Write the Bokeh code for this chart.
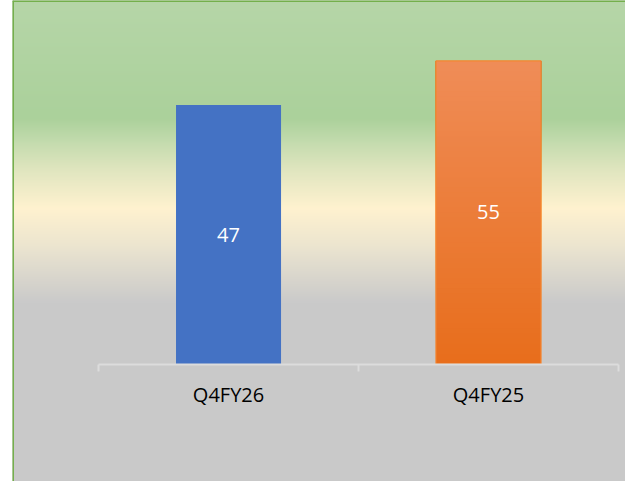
import numpy as np
from bokeh.plotting import figure
from bokeh.models import Range1d, LinearAxis, FixedTicker, Span, ColumnDataSource
from bokeh.core.properties import value
from bokeh.embed import file_html
from bokeh.resources import INLINE

# ---- data ----
categories = ["Q4FY26", "Q4FY25"]
values = [47, 55]
bar_colors = ["#4472C4", "#ED7D31"]

FONT = "Open Sans"
W, H = 625, 481
X0, X1 = -0.331, 2.027
Y0, Y1 = -21.32, 65.97

p = figure(width=W, height=H, output_backend="svg", toolbar_location=None,
           x_range=Range1d(X0, X1), y_range=Range1d(Y0, Y1),
           x_axis_location=None, y_axis_location=None,
           min_border_left=12, min_border_right=0, min_border_top=0, min_border_bottom=0)
p.grid.visible = False
p.outline_line_color = None
p.border_fill_color = "white"
p.background_fill_color = "#c9c9c9"

# ---- background gradient (top -> bottom, in frame pixels) ----
stops = [(0, (182, 214, 168)), (117, (171, 209, 155)), (142, (197, 220, 175)),
         (172, (227, 231, 193)), (207, (255, 242, 207)), (245, (236, 229, 208)),
         (302, (202, 202, 202)), (481, (201, 201, 201))]
rows = H
ys = np.arange(rows)
grad = np.zeros((rows, 1, 4), dtype=np.uint8)
sp = np.array([s[0] for s in stops], dtype=float)
for c in range(3):
    grad[:, 0, c] = np.interp(ys, sp, [s[1][c] for s in stops]).astype(np.uint8)
grad[:, 0, 3] = 255
grad = grad[::-1]  # image row 0 is bottom
img = grad.view(dtype=np.uint32).reshape((rows, 1))
p.image_rgba(image=[img], x=X0, y=Y0, dw=X1 - X0, dh=Y1 - Y0)

# ---- bars ----
xc = [i + 0.5 for i in range(len(categories))]
bw = 0.404
# blue bar solid
p.vbar(x=[xc[0]], top=[values[0]], bottom=0, width=bw, fill_color=bar_colors[0], line_color=None)
# orange bar with vertical gradient: overlapping slices from each level up to the value
N = 60
top_c = np.array([240, 141, 88]); bot_c = np.array([232, 110, 28])
bottoms, tops, cols = [], [], []
for k in range(N):
    b = values[1] * k / N
    f = (k + 0.5) / N
    col = bot_c + (top_c - bot_c) * f
    bottoms.append(b); tops.append(values[1])
    cols.append("#%02x%02x%02x" % tuple(int(v) for v in col))
src = ColumnDataSource(dict(x=[xc[1]] * N, b=bottoms, t=tops, c=cols))
p.vbar(x="x", bottom="b", top="t", width=bw, fill_color="c", line_color=None, source=src)
p.vbar(x=[xc[1]], top=[values[1]], bottom=0, width=bw, fill_color=None, line_color="#F5852F", line_width=1.2)

# ---- data labels ----
p.text(x=xc, y=[v / 2 for v in values], text=[str(v) for v in values],
       text_align="center", text_baseline="middle", text_color="white",
       text_font=value(FONT), text_font_size="20px")

# ---- category axis: boundary ticks as minor ticks, labels at centres ----
ax = LinearAxis(fixed_location=0, bounds=(0, len(categories)))
ax.ticker = FixedTicker(ticks=xc, minor_ticks=list(range(len(categories) + 1)))
ax.major_label_overrides = {x: c for x, c in zip(xc, categories)}
ax.axis_line_color = "#dcdcdc"
ax.axis_line_width = 2
ax.major_tick_line_color = None
ax.major_tick_out = 0
ax.major_tick_in = 0
ax.minor_tick_line_color = "#dcdcdc"
ax.minor_tick_line_width = 2
ax.minor_tick_out = 7
ax.minor_tick_in = 0
ax.major_label_standoff = 10
ax.major_label_text_font = FONT
ax.major_label_text_font_size = "20px"
ax.major_label_text_color = "#000000"
p.add_layout(ax, "below")

# ---- green chart border (top and left) ----
p.add_layout(Span(location=Y1, dimension="width", line_color="#74AF4C", line_width=3))
p.add_layout(Span(location=X0, dimension="height", line_color="#74AF4C", line_width=3))

open("out.html", "w").write(file_html(p, INLINE))
